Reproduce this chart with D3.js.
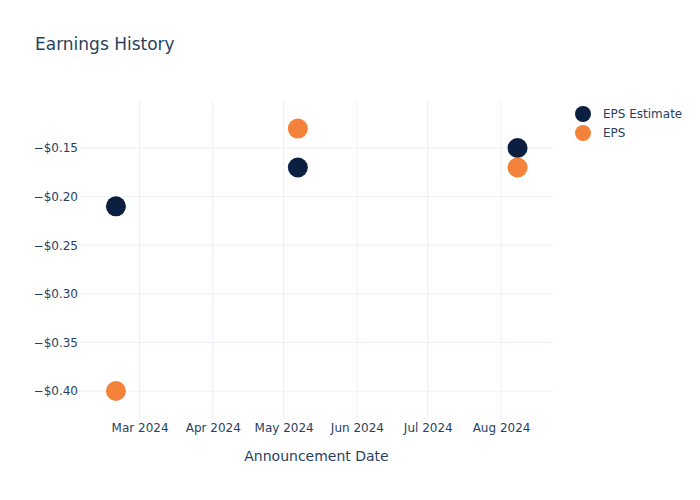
<!DOCTYPE html>
<html>
<head>
<meta charset="utf-8">
<script src="https://cdn.jsdelivr.net/npm/d3@7"></script>
<style>
  html, body { margin: 0; padding: 0; background: #fff; }
  text { font-family: "DejaVu Sans", "Open Sans", sans-serif; }
</style>
</head>
<body>
<svg id="chart" width="700" height="500"></svg>
<script>
const dates = ["2024-02-20", "2024-05-07", "2024-08-08"];
const epsEstimate = [-0.21, -0.17, -0.15];
const eps = [-0.40, -0.13, -0.17];
const seriesNames = ["EPS Estimate", "EPS"];
const seriesColors = ["#0b1f41", "#f5823a"];
const yTicks = [-0.15, -0.20, -0.25, -0.30, -0.35, -0.40];
const xTickDates = ["2024-03-01", "2024-04-01", "2024-05-01", "2024-06-01", "2024-07-01", "2024-08-01"];

const svg = d3.select("#chart");
const W = 700, H = 500;
const m = { l: 80, r: 147, t: 100, b: 80 };
const parse = d3.utcParse("%Y-%m-%d");

const x = d3.scaleUtc()
  .domain([new Date(Date.UTC(2024, 1, 4, 19)), new Date(Date.UTC(2024, 7, 23, 0))])
  .range([m.l, W - m.r]);
const y = d3.scaleLinear()
  .domain([-0.4298, -0.1006])
  .range([H - m.b, m.t]);

const grid = "#ebf0f8";
const textColor = "#2a3f5f";

// gridlines
svg.append("g").selectAll("line").data(yTicks).join("line")
  .attr("x1", m.l).attr("x2", W - m.r)
  .attr("y1", d => y(d)).attr("y2", d => y(d))
  .attr("stroke", grid).attr("stroke-width", 1);
svg.append("g").selectAll("line").data(xTickDates.map(parse)).join("line")
  .attr("x1", d => x(d)).attr("x2", d => x(d))
  .attr("y1", m.t).attr("y2", H - m.b)
  .attr("stroke", grid).attr("stroke-width", 1);

// y axis
const yAxis = d3.axisLeft(y).tickValues(yTicks).tickSize(0).tickPadding(2)
  .tickFormat(d => "\u2212$" + Math.abs(d).toFixed(2));
const gy = svg.append("g").attr("transform", `translate(${m.l},0)`).call(yAxis);
gy.select(".domain").remove();
gy.selectAll("text").attr("fill", textColor).style("font-size", "12px");

// x axis
const xAxis = d3.axisBottom(x).tickValues(xTickDates.map(parse)).tickSize(0).tickPadding(3)
  .tickFormat(d3.utcFormat("%b %Y"));
const gx = svg.append("g").attr("transform", `translate(0,${H - m.b})`).call(xAxis);
gx.select(".domain").remove();
gx.selectAll("text").attr("fill", textColor).style("font-size", "12px");

// title
svg.append("text").attr("x", 35).attr("y", 50)
  .attr("fill", textColor).style("font-size", "17px").text("Earnings History");

// axis title
svg.append("text").attr("x", (m.l + W - m.r) / 2).attr("y", 461)
  .attr("text-anchor", "middle").attr("fill", textColor).style("font-size", "14px")
  .text("Announcement Date");

// points
const series = [epsEstimate, eps];
series.forEach((vals, si) => {
  svg.append("g").selectAll("circle").data(vals).join("circle")
    .attr("cx", (d, i) => x(parse(dates[i])))
    .attr("cy", d => y(d))
    .attr("r", 10)
    .attr("fill", seriesColors[si]);
});

// legend
const lg = svg.append("g");
seriesNames.forEach((name, i) => {
  const yy = 114 + i * 19;
  lg.append("circle").attr("cx", 583).attr("cy", yy).attr("r", 8).attr("fill", seriesColors[i]);
  lg.append("text").attr("x", 603).attr("y", yy + 4).attr("fill", textColor)
    .style("font-size", "12px").text(name);
});
</script>
</body>
</html>
